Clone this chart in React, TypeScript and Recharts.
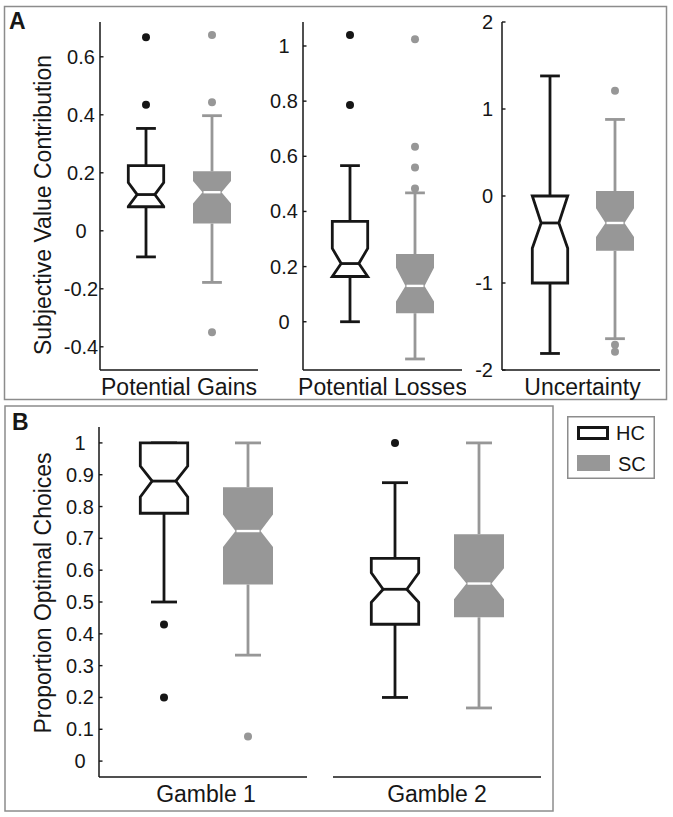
import React from 'react';
import { ComposedChart, Bar, XAxis, YAxis, Legend } from 'recharts';

const FONT = '"Liberation Sans", Arial, Helvetica, sans-serif';
const DARK = '#161616';
const GRAY = '#979797';
const FRAME = '#8c8c8c';

// ---- categories / labels ----
const panelACategories = ['Potential Gains', 'Potential Losses', 'Uncertainty'];
const panelBCategories = ['Gamble 1', 'Gamble 2'];
const groupNames = ['HC', 'SC'];
const panelAYLabel = 'Subjective Value Contribution';
const panelBYLabel = 'Proportion Optimal Choices';

// ---- tick labels ----
const gainsTicks = [-0.4, -0.2, 0, 0.2, 0.4, 0.6];
const lossesTicks = [0, 0.2, 0.4, 0.6, 0.8, 1];
const uncertaintyTicks = [-2, -1, 0, 1, 2];
const proportionTicks = [0, 0.1, 0.2, 0.3, 0.4, 0.5, 0.6, 0.7, 0.8, 0.9, 1];

// ---- axis domains ----
const gainsDomain = [-0.48, 0.72];
const lossesDomain = [-0.175, 1.087];
const uncertaintyDomain = [-2, 2];
const proportionDomain = [-0.05, 1.05];

// ---- box statistics: [lower whisker, Q1, median, Q3, upper whisker] ----
const gainsHC = [-0.09, 0.083, 0.125, 0.225, 0.353];
const gainsHCNotch = [0.084, 0.166];
const gainsHCOutliers = [0.435, 0.667];
const gainsSC = [-0.178, 0.025, 0.133, 0.205, 0.397];
const gainsSCNotch = [0.094, 0.172];
const gainsSCOutliers = [-0.35, 0.443, 0.675];

const lossesHC = [0, 0.164, 0.211, 0.364, 0.566];
const lossesHCNotch = [0.152, 0.266];
const lossesHCOutliers = [0.786, 1.04];
const lossesSC = [-0.135, 0.031, 0.13, 0.246, 0.467];
const lossesSCNotch = [0.073, 0.196];
const lossesSCOutliers = [0.483, 0.559, 0.635, 1.024];

const uncertaintyHC = [-1.81, -1.0, -0.31, 0, 1.38];
const uncertaintyHCNotch = [-0.6, 0.02];
const uncertaintyHCOutliers: number[] = [];
const uncertaintySC = [-1.64, -0.63, -0.31, 0.057, 0.88];
const uncertaintySCNotch = [-0.47, -0.14];
const uncertaintySCOutliers = [-1.79, -1.71, 1.21];

const gamble1HC = [0.5, 0.779, 0.88, 1.0, 1.0];
const gamble1HCNotch = [0.83, 0.927];
const gamble1HCOutliers = [0.2, 0.429];
const gamble1SC = [0.333, 0.555, 0.723, 0.861, 1.0];
const gamble1SCNotch = [0.673, 0.775];
const gamble1SCOutliers = [0.077];

const gamble2HC = [0.2, 0.43, 0.54, 0.637, 0.875];
const gamble2HCNotch = [0.499, 0.592];
const gamble2HCOutliers = [1.0];
const gamble2SC = [0.167, 0.452, 0.558, 0.713, 1.0];
const gamble2SCNotch = [0.509, 0.606];
const gamble2SCOutliers: number[] = [];

function makeRow(
  name: string,
  hc: number[], hcN: number[], hcO: number[],
  sc: number[], scN: number[], scO: number[]
) {
  return {
    name,
    hcRange: [hc[0], hc[4]],
    scRange: [sc[0], sc[4]],
    hc: { five: hc, notch: hcN, out: hcO },
    sc: { five: sc, notch: scN, out: scO },
  };
}

const gainsData = [makeRow(panelACategories[0], gainsHC, gainsHCNotch, gainsHCOutliers, gainsSC, gainsSCNotch, gainsSCOutliers)];
const lossesData = [makeRow(panelACategories[1], lossesHC, lossesHCNotch, lossesHCOutliers, lossesSC, lossesSCNotch, lossesSCOutliers)];
const uncertaintyData = [makeRow(panelACategories[2], uncertaintyHC, uncertaintyHCNotch, uncertaintyHCOutliers, uncertaintySC, uncertaintySCNotch, uncertaintySCOutliers)];
const gamble1Data = [makeRow(panelBCategories[0], gamble1HC, gamble1HCNotch, gamble1HCOutliers, gamble1SC, gamble1SCNotch, gamble1SCOutliers)];
const gamble2Data = [makeRow(panelBCategories[1], gamble2HC, gamble2HCNotch, gamble2HCOutliers, gamble2SC, gamble2SCNotch, gamble2SCOutliers)];

// ---- notched box drawn from the bar geometry (range bar = whisker span) ----
const BoxPlotShape = (props: any) => {
  const { x, y, width, height, payload, group } = props;
  const st = payload[group];
  const [wlo, q1, med, q3, whi] = st.five;
  const top = Math.min(y, y + height);
  const bot = Math.max(y, y + height);
  const pix = (v: number) => top + ((bot - top) * (whi - v)) / (whi - wlo);
  const cx = x + width / 2;
  const isHC = group === 'hc';
  const color = isHC ? DARK : GRAY;
  const hw = isHC ? width / 2 - 1.3 : width / 2;
  const nw = hw * 0.5;
  const cap = width * 0.26;
  const nlo = Math.max(st.notch[0], q1);
  const nhi = Math.min(st.notch[1], q3);
  const pts = [
    [cx - hw, pix(q1)],
    [cx - hw, pix(nlo)],
    [cx - nw, pix(med)],
    [cx - hw, pix(nhi)],
    [cx - hw, pix(q3)],
    [cx + hw, pix(q3)],
    [cx + hw, pix(nhi)],
    [cx + nw, pix(med)],
    [cx + hw, pix(nlo)],
    [cx + hw, pix(q1)],
  ]
    .map((p) => p.join(','))
    .join(' ');
  const sw = 2.8;
  return (
    <g>
      <line x1={cx} x2={cx} y1={pix(q3)} y2={pix(whi)} stroke={color} strokeWidth={sw} />
      <line x1={cx} x2={cx} y1={pix(q1)} y2={pix(wlo)} stroke={color} strokeWidth={sw} />
      <line x1={cx - cap} x2={cx + cap} y1={pix(whi)} y2={pix(whi)} stroke={color} strokeWidth={sw} />
      <line x1={cx - cap} x2={cx + cap} y1={pix(wlo)} y2={pix(wlo)} stroke={color} strokeWidth={sw} />
      <polygon
        points={pts}
        fill={isHC ? '#ffffff' : GRAY}
        stroke={isHC ? DARK : 'none'}
        strokeWidth={sw}
        strokeLinejoin="miter"
      />
      <line
        x1={cx - nw + (isHC ? 0 : 1)}
        x2={cx + nw - (isHC ? 0 : 1)}
        y1={pix(med)}
        y2={pix(med)}
        stroke={isHC ? DARK : '#ffffff'}
        strokeWidth={isHC ? sw : 2.4}
      />
      {st.out.map((v: number, i: number) => (
        <circle key={i} cx={cx} cy={pix(v)} r={4} fill={color} />
      ))}
    </g>
  );
};

const makeYTick = (mode: 'middle' | 'end') => (p: any) => {
  const v = p.payload.value;
  return (
    <g>
      <line x1={p.x} x2={p.x + 3.5} y1={p.y} y2={p.y} stroke={DARK} strokeWidth={1.4} />
      <text
        x={mode === 'middle' ? p.x - 19 : p.x - 9}
        y={p.y}
        dy="0.35em"
        textAnchor={mode}
        fontSize={20}
        fontFamily={FONT}
        fill={DARK}
      >
        {String(v)}
      </text>
    </g>
  );
};

const XTick = (p: any) => (
  <text x={p.x} y={p.y + 25} textAnchor="middle" fontSize={23} fontFamily={FONT} fill={DARK}>
    {p.payload.value}
  </text>
);

const makeYLabel = (text: string, xOff: number, yShift: number) => (p: any) => {
  const vb = p.viewBox || { x: 0, y: 0, width: 0, height: 0 };
  const lx = vb.x + xOff;
  const ly = vb.y + vb.height / 2 + yShift;
  return (
    <text
      x={lx}
      y={ly}
      transform={`rotate(-90, ${lx}, ${ly})`}
      textAnchor="middle"
      fontSize={23}
      fontFamily={FONT}
      fill={DARK}
    >
      {text}
    </text>
  );
};

const LegendBox = (props: any) => {
  const items = (props.payload || []).map((e: any) => e.value);
  const names = items.length ? items : groupNames;
  return (
    <svg width={88} height={63} style={{ display: 'block' }}>
      <rect x={0.75} y={0.75} width={86.5} height={61.5} fill="#fff" stroke={FRAME} strokeWidth={1.5} />
      <rect x={11.5} y={11.5} width={29} height={11} fill="#fff" stroke={DARK} strokeWidth={3} />
      <text x={49} y={23.5} fontSize={20} fontFamily={FONT} fill={DARK}>{names[0]}</text>
      <rect x={10} y={39} width={33} height={16} fill={GRAY} />
      <text x={51} y={54.5} fontSize={20} fontFamily={FONT} fill={DARK}>{names[1]}</text>
    </svg>
  );
};

type PanelProps = {
  data: any[];
  left: number;
  top: number;
  width: number;
  height: number;
  marginTop: number;
  marginLeft: number;
  marginRight: number;
  yWidth: number;
  xHeight: number;
  domain: number[];
  ticks: number[];
  tickMode: 'middle' | 'end';
  hideY?: boolean;
  yLabel?: string;
  yLabelX?: number;
  yLabelShift?: number;
  barSize: number;
  barGap: number;
  padLeft?: number;
  legend?: boolean;
};

const Panel = (p: PanelProps) => (
  <div style={{ position: 'absolute', left: p.left, top: p.top }}>
    <ComposedChart
      width={p.width}
      height={p.height}
      data={p.data}
      margin={{ top: p.marginTop, right: p.marginRight, bottom: 0, left: p.marginLeft }}
      barSize={p.barSize}
      barGap={p.barGap}
    >
      <XAxis
        dataKey="name"
        type="category"
        height={p.xHeight}
        tickSize={0}
        tickMargin={0}
        tickLine={false}
        axisLine={{ stroke: DARK, strokeWidth: 1.5 }}
        tick={XTick}
        interval={0}
        padding={{ left: p.padLeft || 0, right: 0 }}
      />
      <YAxis
        type="number"
        domain={p.domain}
        ticks={p.ticks}
        allowDataOverflow
        hide={!!p.hideY}
        width={p.yWidth}
        tickSize={0}
        tickMargin={0}
        tickLine={false}
        interval={0}
        axisLine={{ stroke: DARK, strokeWidth: 1.5 }}
        tick={makeYTick(p.tickMode)}
        label={p.yLabel ? makeYLabel(p.yLabel, p.yLabelX || 50, p.yLabelShift || 0) : undefined}
      />
      <Bar
        dataKey="hcRange"
        name={groupNames[0]}
        fill="#ffffff"
        stroke={DARK}
        isAnimationActive={false}
        shape={(sp: any) => <BoxPlotShape {...sp} group="hc" />}
      />
      <Bar
        dataKey="scRange"
        name={groupNames[1]}
        fill={GRAY}
        isAnimationActive={false}
        shape={(sp: any) => <BoxPlotShape {...sp} group="sc" />}
      />
      {p.legend ? (
        <Legend
          layout="vertical"
          align="center"
          verticalAlign="middle"
          content={LegendBox}
          wrapperStyle={{ left: 238, top: 16, width: 88, height: 63 }}
        />
      ) : null}
    </ComposedChart>
  </div>
);

export default function App() {
  return (
    <div
      style={{
        position: 'absolute',
        left: 0,
        top: 0,
        width: 673,
        height: 817,
        background: '#ffffff',
        fontFamily: FONT,
        overflow: 'hidden',
      }}
    >
      <svg width={673} height={817} style={{ position: 'absolute', left: 0, top: 0 }}>
        <rect x={4.5} y={6.5} width={662} height={393} fill="none" stroke={FRAME} strokeWidth={1.5} />
        <rect x={5} y={406} width={548} height={405} fill="none" stroke={FRAME} strokeWidth={1.5} />
        <text x={9} y={29} fontSize={23} fontWeight="bold" fontFamily={FONT} fill={DARK}>A</text>
        <text x={12} y={430} fontSize={23} fontWeight="bold" fontFamily={FONT} fill={DARK}>B</text>
      </svg>

      <Panel
        data={gainsData}
        left={0} top={0} width={262} height={400}
        marginTop={22} marginLeft={0} marginRight={4}
        yWidth={100} xHeight={30}
        domain={gainsDomain} ticks={gainsTicks} tickMode="middle"
        yLabel={panelAYLabel} yLabelX={51} yLabelShift={9}
        barSize={38} barGap={28}
      />
      <Panel
        data={lossesData}
        left={200} top={0} width={266} height={400}
        marginTop={22} marginLeft={0} marginRight={4}
        yWidth={103} xHeight={30}
        domain={lossesDomain} ticks={lossesTicks} tickMode="middle"
        barSize={38} barGap={27}
      />
      <Panel
        data={uncertaintyData}
        left={400} top={0} width={264} height={400}
        marginTop={22} marginLeft={0} marginRight={4}
        yWidth={102} xHeight={30}
        domain={uncertaintyDomain} ticks={uncertaintyTicks} tickMode="end"
        barSize={38} barGap={27} padLeft={3}
      />
      <Panel
        data={gamble1Data}
        left={0} top={400} width={311} height={412}
        marginTop={27} marginLeft={0} marginRight={4}
        yWidth={99} xHeight={35}
        domain={proportionDomain} ticks={proportionTicks} tickMode="middle"
        yLabel={panelBYLabel} yLabelX={51} yLabelShift={-9}
        barSize={50} barGap={34} padLeft={6}
      />
      <Panel
        data={gamble2Data}
        left={329} top={400} width={344} height={412}
        marginTop={27} marginLeft={4} marginRight={132}
        yWidth={0} xHeight={35}
        domain={proportionDomain} ticks={proportionTicks} tickMode="middle"
        hideY
        barSize={50} barGap={34}
        legend
      />
    </div>
  );
}
